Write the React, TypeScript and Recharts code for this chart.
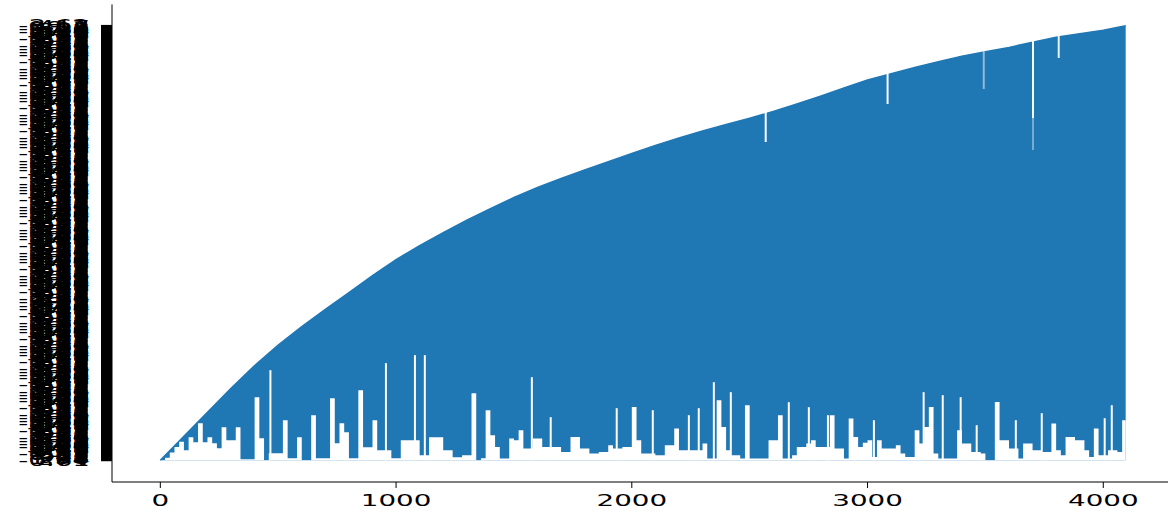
import React from 'react';
import { ComposedChart, Area, XAxis, YAxis, ReferenceLine } from 'recharts';

// ---- data (x = sample index, y = category index of the plotted string value) ----
const SAMPLE_X: number[] = [...Array.from({ length: 205 }, (_, i) => i * 20), 4095];

// lower edge of the blue mass at each sample (category index)
const LOWER_EDGE: number[] = [
  0, 10, 31, 53, 74, 40, 92, 72, 148, 72,
  92, 68, 48, 132, 80, 80, 132, 4, 4, 4,
  252, 88, 0, 28, 28, 28, 160, 8, 8, 92,
  0, 0, 180, 8, 8, 8, 248, 68, 148, 112,
  8, 8, 280, 52, 52, 160, 40, 40, 40, 8,
  8, 80, 80, 80, 80, 20, 20, 92, 92, 92,
  40, 40, 12, 12, 20, 20, 268, 0, 8, 200,
  100, 53, 7, 7, 87, 80, 120, 47, 47, 87,
  87, 53, 53, 53, 53, 33, 33, 93, 93, 47,
  47, 27, 27, 33, 33, 60, 47, 47, 53, 53,
  213, 80, 27, 27, 27, 20, 20, 60, 60, 127,
  40, 40, 40, 40, 40, 67, 7, 7, 240, 133,
  40, 20, 20, 7, 220, 7, 7, 7, 7, 80,
  80, 180, 7, 7, 20, 53, 53, 67, 80, 53,
  53, 53, 180, 47, 47, 7, 167, 93, 53, 70,
  80, 13, 80, 47, 47, 47, 60, 27, 13, 13,
  120, 67, 133, 213, 27, 7, 7, 7, 7, 120,
  67, 67, 33, 33, 27, 0, 0, 233, 80, 80,
  47, 47, 7, 67, 67, 40, 40, 33, 33, 147,
  40, 20, 93, 93, 80, 80, 40, 13, 127, 20,
  20, 40, 40, 33, 160, 240,
];

// upper envelope (newest category reached so far)
const ENV_X: number[] = [
  0, 100, 200, 300, 400, 500, 600, 700, 800, 900,
  1000, 1100, 1200, 1300, 1400, 1500, 1600, 1700, 1800, 1900,
  2000, 2100, 2200, 2300, 2400, 2500, 2600, 2700, 2800, 2900,
  3000, 3100, 3200, 3300, 3400, 3500, 3600, 3700, 3800, 3900,
  4000, 4095,
];
const ENV_TOP: number[] = [
  0, 96, 192, 288, 378, 460, 534, 603, 670, 738,
  802, 858, 910, 960, 1006, 1050, 1090, 1126, 1160, 1193,
  1226, 1258, 1288, 1316, 1342, 1367, 1394, 1424, 1455, 1488,
  1520, 1545, 1570, 1593, 1615, 1633, 1650, 1671, 1691, 1705,
  1719, 1737,
];

// narrow revisits rising from the bottom (x, highest category reached)
const LOW_GAP_X: number[] = [467, 957, 1080, 1122, 1576, 1656, 1936, 2089, 2242, 2284, 2348, 2420, 2666, 2751, 2832, 3027, 3238, 3319, 3395, 3463, 3629, 3739, 4006, 4036];
const LOW_GAP_TOP: number[] = [360, 388, 420, 420, 332, 172, 208, 200, 180, 208, 312, 272, 232, 212, 180, 160, 272, 260, 252, 140, 160, 188, 168, 220];

// narrow notches near the top (x, from, to, strength)
const TOP_GAP_X: number[] = [2568, 3085, 3493, 3702, 3702, 3811];
const TOP_GAP_FROM: number[] = [1272, 1424, 1484, 1368, 1240, 1608];
const TOP_GAP_TO: number[] = [1400, 1560, 1640, 1700, 1368, 1710];
const TOP_GAP_ALPHA: number[] = [1, 1, 0.5, 1, 0.4, 0.9];

const X_TICKS: number[] = [0, 1000, 2000, 3000, 4000];
const Y_TICK_STEP = 4;
const Y_TICKS: number[] = Array.from({ length: 435 }, (_, i) => i * Y_TICK_STEP);
const Y_TICK_LABELS: string[] = [
  '-0.61', '274', '1.38', '905', '-47', '612', '0.93', '-2.15', '381', '56.2',
  '-736', '149', '0.47', '823', '-1.09', '37.4', '560', '-0.28', '98.1', '417',
  '-3.62', '705', '2.46',
];

const rows = SAMPLE_X.map((x, i) => {
  const k = ENV_X.indexOf(x);
  return { x, lo: LOWER_EDGE[i], top: k >= 0 ? ENV_TOP[k] : null };
});

const BLUE = '#1f77b4';
const SX = 1.85;
const FONT = "'DejaVu Sans', sans-serif";

const YTick = (props: any) => {
  const { x, y, payload } = props;
  const idx = Math.round(payload.value / Y_TICK_STEP) % Y_TICK_LABELS.length;
  return (
    <text
      transform={`translate(${x},${y}) scale(${SX},1)`}
      textAnchor="end"
      dominantBaseline="central"
      fontSize={15}
      fontFamily={FONT}
      fill="#000"
    >
      {Y_TICK_LABELS[idx]}
    </text>
  );
};

const XTick = (props: any) => {
  const { x, y, payload } = props;
  return (
    <text
      transform={`translate(${x},${y}) scale(${SX},1)`}
      textAnchor="middle"
      dy="0.71em"
      fontSize={15}
      fontFamily={FONT}
      fill="#000"
    >
      {payload.value}
    </text>
  );
};

export default function App() {
  return (
    <div style={{ position: 'fixed', left: 0, top: 0, width: 1168, height: 515, overflow: 'hidden', background: '#fff' }}>
      <ComposedChart width={1200} height={515} data={rows} margin={{ top: 4.4, right: 26, bottom: 0, left: 0 }}>
        <XAxis
          dataKey="x"
          type="number"
          domain={[-205, 4300]}
          ticks={X_TICKS}
          interval={0}
          tick={<XTick />}
          tickSize={6}
          tickMargin={7}
          height={33}
          axisLine={{ stroke: '#000' }}
          tickLine={{ stroke: '#000' }}
          allowDataOverflow
        />
        <XAxis
          xAxisId="top"
          orientation="top"
          type="number"
          domain={[-205, 4300]}
          height={0}
          tick={false}
          tickLine={false}
          axisLine={{ stroke: '#000' }}
        />
        <YAxis
          type="number"
          domain={[-87, 1822]}
          ticks={Y_TICKS}
          interval={0}
          tick={<YTick />}
          tickSize={11}
          tickMargin={11}
          width={112}
          axisLine={{ stroke: '#000' }}
          tickLine={{ stroke: '#000', strokeWidth: 2 }}
          allowDataOverflow
        />
        <Area
          dataKey="top"
          type="linear"
          connectNulls
          baseValue={0}
          fill={BLUE}
          fillOpacity={1}
          stroke={BLUE}
          strokeWidth={1.5}
          dot={false}
          activeDot={false}
          isAnimationActive={false}
        />
        <Area
          dataKey="lo"
          type="stepAfter"
          baseValue={0}
          fill="#fff"
          fillOpacity={1}
          stroke="none"
          dot={false}
          activeDot={false}
          isAnimationActive={false}
        />
        {LOW_GAP_X.map((x, i) => (
          <ReferenceLine
            key={`lg${i}`}
            segment={[{ x, y: 0 }, { x, y: LOW_GAP_TOP[i] }]}
            stroke="#fff"
            strokeWidth={2}
          />
        ))}
        {TOP_GAP_X.map((x, i) => (
          <ReferenceLine
            key={`tg${i}`}
            segment={[{ x, y: TOP_GAP_FROM[i] }, { x, y: TOP_GAP_TO[i] }]}
            stroke="#fff"
            strokeOpacity={TOP_GAP_ALPHA[i]}
            strokeWidth={2}
          />
        ))}
      </ComposedChart>
    </div>
  );
}
